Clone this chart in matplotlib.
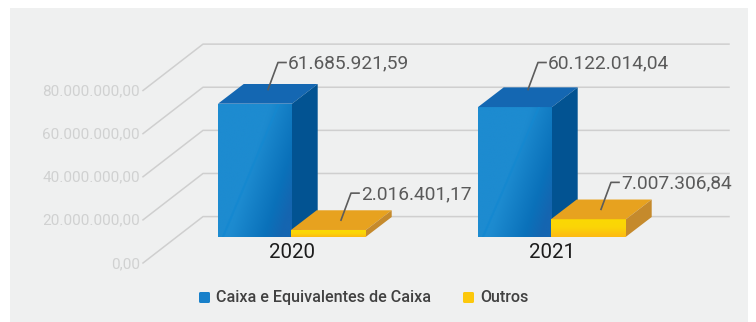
#!/usr/bin/env python3
# -*- coding: utf-8 -*-
import matplotlib
matplotlib.use('Agg')
import matplotlib.pyplot as plt
import numpy as np
from matplotlib.colors import LinearSegmentedColormap
from matplotlib.patches import FancyBboxPatch, Polygon, Rectangle

plt.rcParams['font.family'] = ['Roboto', 'DejaVu Sans']

# data, in millions
years = ['2020', '2021']
caixa = [61.68592159, 60.12201404]
outros = [2.01640117, 7.00730684]
caixa_labels = ['61.685.921,59', '60.122.014,04']
outros_labels = ['2.016.401,17', '7.007.306,84']
y_ticks = [0, 20, 40, 60, 80]
y_tick_labels = ['0,00', '20.000.000,00', '40.000.000,00', '60.000.000,00', '80.000.000,00']
series_names = ['Caixa e Equivalentes de Caixa', 'Outros']

W, H = 756, 322
SCALE = 2.156          # pixels per million
FLOOR = 263            # pixel row of value 0 at the front of the floor


def py(row):
    # pixel row -> value on the y axis
    return (FLOOR - row) / SCALE


fig = plt.figure(figsize=(W / 100, H / 100), dpi=100, facecolor='white')
ax = fig.add_axes([0, 0, 1, 1])
ax.axis('off')

ax.add_patch(Rectangle((10, py(322)), 738, py(8) - py(322), fc='#eff0f0', ec='none', zorder=0))

# walls: slanted part plus the long back line
wall_dx, wall_dy = 60, 46.4 / SCALE
for t, lab in zip(y_ticks, y_tick_labels):
    ax.plot([143, 143 + wall_dx, 729], [t, t + wall_dy, t + wall_dy], color='#cfcfcf', lw=1.1, zorder=1,
            solid_joinstyle='round')
    ax.text(140, t - 0.4, lab, ha='right', va='center', fontsize=10.95, color='#d0d1d1', zorder=2)

blue_cmap = LinearSegmentedColormap.from_list(
    'blue', [(0, '#1d8bd0'), (0.5, '#1d8bd0'), (0.84, '#0a71ba'), (1, '#1565b0')])
gold_cmap = LinearSegmentedColormap.from_list('gold', [(0, '#fbd903'), (0.45, '#fbd507'), (1, '#fdb913')])

bar_base = py(236.7)
depth_dx, depth_dy = 25.7, 19.7 / SCALE
bar_w = [74, 75]
yellow_pad = 1.1       # the short bars are drawn a bit taller than their value


def draw_bar(x0, w, top, cmap, top_col, side_col, diagonal, z):
    grid_x, grid_y = np.meshgrid(np.linspace(0, 1, 120), np.linspace(1, 0, 200))
    if diagonal:
        shade = np.clip(grid_x * 0.7 + (1 - grid_y) * 0.4, 0, 1)
    else:
        shade = 1 - grid_y
    im = ax.imshow(shade, extent=[x0, x0 + w, bar_base, top], cmap=cmap, vmin=0, vmax=1,
                   aspect='auto', zorder=z, origin='upper')
    im.set_clip_path(Rectangle((x0, bar_base), w, top - bar_base, transform=ax.transData))
    ax.add_patch(Polygon([(x0, top), (x0 + w, top), (x0 + w + depth_dx, top + depth_dy),
                          (x0 + depth_dx, top + depth_dy)], fc=top_col, ec='none', zorder=z))
    ax.add_patch(Polygon([(x0 + w, bar_base), (x0 + w + depth_dx, bar_base + depth_dy),
                          (x0 + w + depth_dx, top + depth_dy), (x0 + w, top)], fc=side_col, ec='none', zorder=z))


def draw_label(anchor_x, anchor_val, rise, text):
    elbow = anchor_val + rise / SCALE
    ax.plot([anchor_x, anchor_x + 10, anchor_x + 18], [anchor_val, elbow, elbow], color='#5c5c5c', lw=1.2, zorder=8)
    ax.text(anchor_x + 20, elbow - 0.6, text, ha='left', va='center', fontsize=13.8, color='#5a5a5a', zorder=9)


group_x = [218, 478]
for i, x0 in enumerate(group_x):
    blue_top = bar_base + caixa[i]
    gold_top = bar_base + outros[i] + yellow_pad
    draw_bar(x0, bar_w[0], blue_top, blue_cmap, '#1467b2', '#025392', True, 3)
    draw_bar(x0 + 73, bar_w[1], gold_top, gold_cmap, '#e7a21f', '#c58a2c', False, 4)
    # sheen line across the front of the blue bar
    sheen, = ax.plot([x0 + 5, x0 + 61], [bar_base, blue_top], color='#1488d0', lw=1.6, alpha=0.8, zorder=3.5)
    sheen.set_clip_path(Rectangle((x0, bar_base), bar_w[0], blue_top - bar_base, transform=ax.transData))

    draw_label(x0 + 50, py(89.5), 27, caixa_labels[i])
    draw_label(x0 + 123, gold_top + depth_dy / 2, 27, outros_labels[i])
    ax.text(x0 + 73.7, py(252.5), years[i], ha='center', va='center', fontsize=14.8, color='#1c1c1c', zorder=9)

# legend
legend_x = [199, 463]
for x0, name, col in zip(legend_x, series_names, ['#1880ca', '#fcc80c']):
    ax.add_patch(FancyBboxPatch((x0 + 1.5, py(301.5)), 8, py(293.5) - py(301.5),
                                boxstyle='round,pad=1.5', mutation_aspect=1 / SCALE,
                                fc=col, ec='none', zorder=5))
    ax.text(x0 + 17, py(297.5), name, ha='left', va='center', fontsize=11.6, fontweight='medium',
            color='#414141', zorder=5)

ax.set_xlim(0, W)
ax.set_ylim(py(H), py(0))
fig.savefig('out.png', dpi=100)
